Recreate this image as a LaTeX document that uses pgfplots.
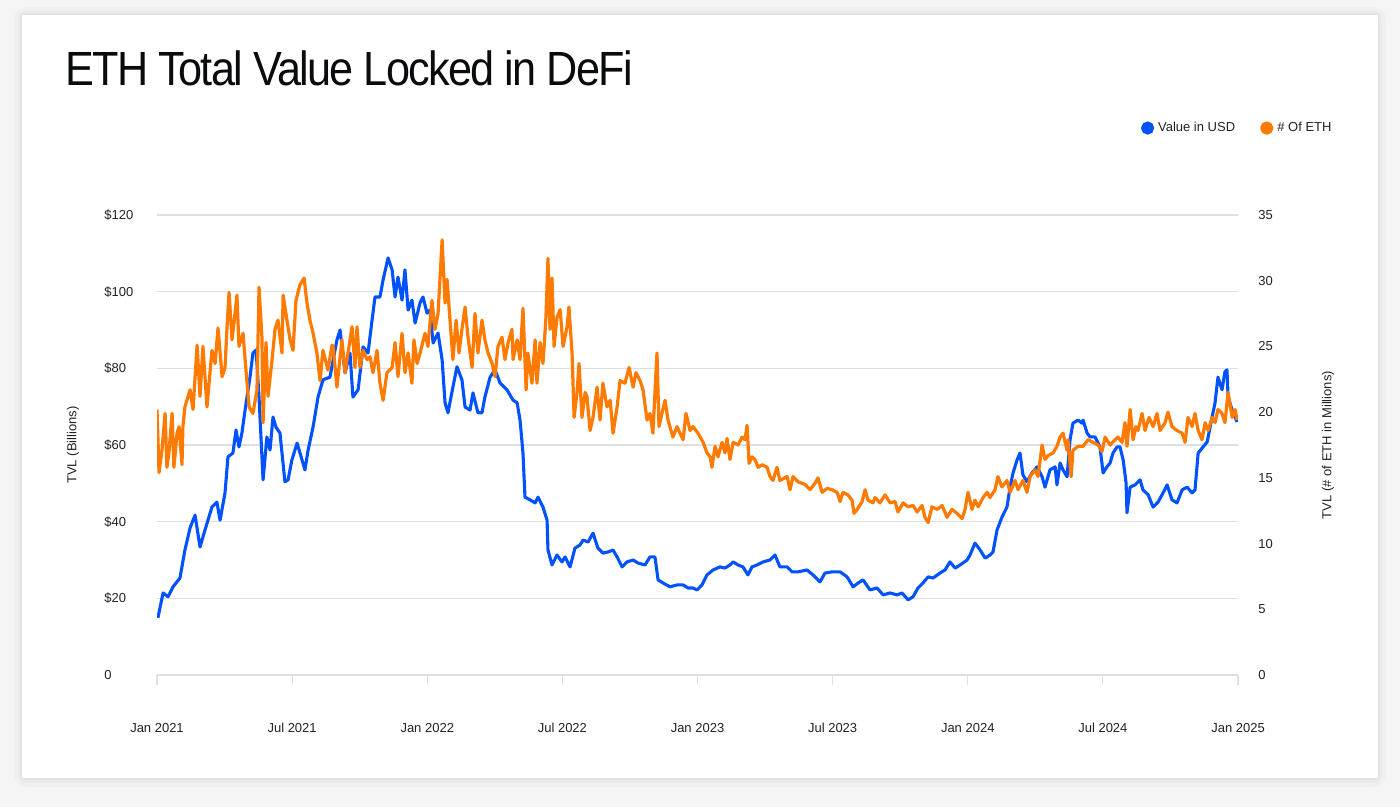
\documentclass[border=0pt]{standalone}
\usepackage{fontspec}
\setmainfont{Liberation Sans}
\newfontfamily\titlefont[LetterSpace=-4]{Liberation Sans}
\usepackage{graphicx}
\usepackage{pgfplots}
\pgfplotsset{compat=1.18}
\definecolor{cbblue}{HTML}{0052FF}
\definecolor{cborange}{HTML}{FF7A00}
\definecolor{gridgray}{HTML}{DCDFE3}
\definecolor{bggray}{HTML}{F5F5F5}
\definecolor{txt}{HTML}{222222}
\definecolor{ttl}{HTML}{0A0B0D}
\begin{document}
\begin{tikzpicture}
\fill[bggray] (0pt,0pt) rectangle (700pt,403.5pt);
\fill[black,opacity=0.02,rounded corners=6pt] (7pt,10pt) rectangle (693pt,400pt);
\fill[black,opacity=0.025,rounded corners=4pt] (9pt,12pt) rectangle (691pt,398pt);
\fill[black,opacity=0.03,rounded corners=2pt] (10.3pt,13.6pt) rectangle (689.7pt,396.8pt);
\fill[white] (11pt,14.5pt) rectangle (689pt,396pt);
\node[anchor=base west, inner sep=0pt, text=ttl] at (32.5pt,360.5pt) {\titlefont\fontsize{24}{29}\selectfont\scalebox{0.9}[1]{ETH Total Value Locked in DeFi}};

\begin{axis}[
 at={(78.5pt,66pt)}, anchor=south west,
 scale only axis, width=540.5pt, height=230pt,
 xmin=0, xmax=48, ymin=0, ymax=120,
 axis x line*=bottom, axis y line*=left,
 y axis line style={draw=none},
 x axis line style={draw=gridgray, line width=0.6pt},
 xtick={0,6,...,48},
 xticklabels={Jan 2021, Jul 2021, Jan 2022, Jul 2022, Jan 2023, Jul 2023, Jan 2024, Jul 2024, Jan 2025},
 ytick={0,20,...,120},
 yticklabels={0,\$20,\$40,\$60,\$80,\$100,\$120},
 ymajorgrids, major grid style={draw=gridgray, line width=0.6pt},
 xtick style={draw=gridgray, line width=0.6pt}, ytick style={draw=none},
 xtick align=outside, major tick length=5pt,
 tick label style={font=\fontsize{6.5}{8}\selectfont, text=txt},
 yticklabel style={anchor=west, inner sep=0pt, xshift=-26.5pt},
 xticklabel style={anchor=base, inner sep=0pt, yshift=-23.5pt},
 ylabel={TVL (Billions)},
 ylabel style={at={(axis description cs:-0.0777,0.5)}, anchor=center, font=\fontsize{6.5}{8}\selectfont, text=txt},
]
\addplot[cbblue, line width=1.55pt, line join=round] coordinates {
(0.04,14.9)(0.27,21.4)(0.49,20.4)(0.71,23.0)(1.02,25.3)(1.24,32.6)(1.47,38.4)(1.69,41.7)(1.91,33.4)(2.13,37.8)(2.44,43.8)(2.66,45.1)(2.80,40.4)(3.02,47.5)(3.15,56.9)(3.37,57.9)(3.51,63.9)(3.64,59.5)(3.77,63.1)(3.91,69.1)(4.13,77.7)(4.26,84.0)(4.40,84.8)(4.53,72.5)(4.71,50.9)(4.88,62.1)(5.02,58.7)(5.15,67.3)(5.28,64.7)(5.46,63.1)(5.68,50.4)(5.82,50.9)(5.99,56.1)(6.22,60.5)(6.44,56.1)(6.57,53.5)(6.71,58.7)(6.93,64.7)(7.15,72.5)(7.37,77.0)(7.68,77.7)(7.99,87.4)(8.13,90.0)(8.35,78.8)(8.57,84.0)(8.70,72.5)(8.93,74.4)(9.15,85.6)(9.37,84.0)(9.55,92.6)(9.68,98.6)(9.90,98.6)(10.04,103.1)(10.26,108.8)(10.44,105.7)(10.57,98.6)(10.70,103.8)(10.88,97.8)(11.01,105.7)(11.15,95.2)(11.32,97.8)(11.46,91.8)(11.68,97.1)(11.81,98.6)(11.99,94.4)(12.12,95.2)(12.26,86.6)(12.48,89.2)(12.66,82.2)(12.79,71.0)(12.92,68.4)(13.14,75.1)(13.32,80.4)(13.54,77.0)(13.68,69.9)(13.90,69.1)(14.03,73.6)(14.25,68.4)(14.43,68.4)(14.56,72.5)(14.79,77.7)(15.01,79.6)(15.23,76.2)(15.54,74.4)(15.81,71.7)(15.99,71.0)(16.12,66.5)(16.25,57.9)(16.34,46.4)(16.56,45.7)(16.79,44.9)(16.92,46.4)(17.14,43.8)(17.32,40.4)(17.36,32.6)(17.54,28.7)(17.76,31.3)(17.98,29.5)(18.12,30.8)(18.34,28.2)(18.56,33.1)(18.78,33.9)(18.92,35.2)(19.14,34.7)(19.36,37.0)(19.58,33.1)(19.80,31.8)(20.03,32.1)(20.25,32.6)(20.43,30.8)(20.65,28.2)(20.87,29.5)(21.14,30.0)(21.36,29.2)(21.67,28.7)(21.89,30.8)(22.11,30.8)(22.25,24.8)(22.47,24.0)(22.78,23.0)(23.09,23.5)(23.36,23.5)(23.58,22.7)(23.80,22.7)(23.98,22.2)(24.20,23.5)(24.42,26.1)(24.69,27.4)(25.00,28.2)(25.22,27.9)(25.44,28.7)(25.58,29.5)(25.80,28.7)(26.02,28.2)(26.24,26.1)(26.42,28.2)(26.64,28.7)(26.91,29.5)(27.22,30.0)(27.44,31.3)(27.66,28.2)(27.98,28.2)(28.20,26.9)(28.46,26.9)(28.86,27.4)(29.13,26.1)(29.44,24.3)(29.66,26.6)(29.97,26.9)(30.33,26.9)(30.64,25.6)(30.91,23.0)(31.13,24.0)(31.35,24.8)(31.66,22.2)(31.97,22.7)(32.24,20.9)(32.55,21.4)(32.86,20.9)(33.08,21.4)(33.35,19.6)(33.57,20.4)(33.79,22.7)(34.01,24.0)(34.24,25.6)(34.46,25.3)(34.77,26.6)(34.99,27.4)(35.21,29.5)(35.44,27.9)(35.66,28.7)(35.97,30.0)(36.10,31.3)(36.32,34.4)(36.55,32.6)(36.77,30.5)(36.99,31.3)(37.12,32.1)(37.30,37.8)(37.52,41.2)(37.74,43.8)(37.88,49.0)(38.01,52.7)(38.19,56.1)(38.32,57.9)(38.45,52.2)(38.63,50.4)(38.85,52.7)(39.08,54.3)(39.30,51.7)(39.43,49.0)(39.65,53.5)(39.88,54.3)(39.96,49.6)(40.10,55.3)(40.23,53.5)(40.41,51.7)(40.54,61.3)(40.67,65.7)(40.90,66.5)(41.07,65.7)(41.12,66.5)(41.30,63.1)(41.43,62.1)(41.65,62.1)(41.87,59.5)(42.01,52.7)(42.18,54.3)(42.32,55.3)(42.45,57.9)(42.63,59.5)(42.76,59.5)(42.90,56.1)(43.03,50.1)(43.07,42.3)(43.21,49.0)(43.43,49.6)(43.65,50.9)(43.78,48.3)(44.01,47.0)(44.23,43.8)(44.45,45.1)(44.67,47.5)(44.85,49.6)(45.07,45.7)(45.29,44.9)(45.52,48.3)(45.74,49.0)(45.96,47.5)(46.09,48.3)(46.23,57.9)(46.45,59.5)(46.63,60.8)(46.85,67.3)(46.98,71.0)(47.11,77.7)(47.29,74.4)(47.42,79.1)(47.51,79.6)(47.56,72.5)(47.74,69.1)(47.87,67.3)(47.96,66.0)
};
\end{axis}

\begin{axis}[
 at={(78.5pt,66pt)}, anchor=south west,
 scale only axis, width=540.5pt, height=230pt,
 xmin=0, xmax=48, ymin=0, ymax=35,
 axis x line=none, axis y line*=right,
 y axis line style={draw=none},
 ytick={0,5,...,35},
 yticklabels={0,5,10,15,20,25,30,35},
 ytick style={draw=none},
 tick label style={font=\fontsize{6.5}{8}\selectfont, text=txt},
 yticklabel style={anchor=west, inner sep=0pt, xshift=10pt},
 ylabel={TVL (\# of ETH in Millions)},
 ylabel style={at={(axis description cs:1.0833,0.5)}, anchor=center, font=\fontsize{6.5}{8}\selectfont, text=txt},
 legend style={at={(axis description cs:1.0906,1.189)}, anchor=east, draw=none, fill=none,
   font=\fontsize{6.5}{8}\selectfont, text=txt, legend columns=2, inner sep=0pt,
   /tikz/every even column/.append style={column sep=10.5pt}},
 legend image code/.code={\fill[#1] (0pt,0pt) circle (2.5pt);},
]
\addlegendimage{cbblue, line width=1.5pt}
\addlegendentry{Value in USD}
\addplot[cborange, line width=1.6pt, line join=round] coordinates {
(0.00,20.2)(0.09,15.4)(0.22,17.1)(0.36,19.9)(0.44,15.8)(0.53,16.9)(0.67,19.9)(0.75,15.8)(0.89,18.4)(0.98,18.9)(1.11,16.0)(1.15,18.9)(1.24,20.4)(1.47,21.7)(1.60,20.2)(1.78,25.1)(1.91,21.2)(2.04,25.0)(2.22,20.4)(2.44,24.7)(2.58,23.7)(2.71,26.4)(2.89,22.7)(3.02,23.4)(3.11,26.5)(3.20,29.1)(3.33,25.5)(3.42,26.8)(3.55,28.9)(3.64,25.0)(3.82,26.0)(3.95,23.2)(4.09,20.4)(4.26,19.9)(4.44,21.7)(4.53,29.5)(4.66,25.7)(4.71,19.2)(4.84,25.3)(4.93,21.2)(5.11,24.0)(5.24,26.3)(5.37,27.0)(5.55,24.5)(5.60,28.9)(5.77,27.0)(5.91,25.5)(6.04,24.7)(6.17,28.5)(6.35,29.7)(6.53,30.2)(6.66,28.3)(6.79,27.0)(6.93,26.0)(7.10,24.5)(7.24,22.4)(7.37,24.7)(7.59,23.2)(7.77,25.1)(7.82,25.0)(7.99,21.9)(8.21,25.5)(8.35,23.0)(8.48,24.5)(8.66,26.5)(8.79,23.4)(8.88,26.5)(9.01,23.4)(9.15,24.7)(9.33,24.0)(9.46,24.2)(9.59,23.0)(9.77,24.7)(9.90,22.2)(10.04,20.9)(10.21,23.0)(10.44,23.4)(10.57,25.3)(10.70,22.7)(10.88,26.0)(11.01,23.0)(11.15,24.5)(11.32,22.2)(11.41,25.5)(11.55,23.7)(11.68,24.5)(11.90,26.0)(12.03,25.0)(12.21,28.5)(12.34,26.3)(12.48,27.5)(12.66,33.1)(12.79,28.3)(12.88,30.1)(13.01,27.0)(13.14,24.0)(13.28,27.0)(13.41,24.5)(13.54,26.3)(13.68,28.0)(13.81,25.7)(13.99,23.4)(14.12,27.5)(14.25,24.5)(14.43,27.0)(14.56,25.5)(14.70,24.5)(14.88,23.7)(15.01,22.7)(15.14,25.0)(15.32,25.7)(15.45,24.0)(15.59,25.3)(15.76,26.3)(15.81,24.0)(15.99,25.5)(16.12,24.0)(16.25,27.9)(16.39,21.7)(16.47,24.5)(16.65,22.2)(16.79,25.5)(16.87,22.2)(17.01,25.3)(17.14,23.7)(17.27,27.2)(17.36,31.7)(17.45,26.3)(17.54,30.2)(17.63,25.0)(17.76,27.2)(17.90,27.8)(18.03,25.0)(18.21,26.5)(18.29,28.0)(18.43,24.5)(18.52,19.6)(18.65,21.5)(18.74,23.7)(18.87,19.6)(19.01,21.5)(19.09,21.2)(19.23,18.6)(19.36,19.6)(19.54,21.9)(19.67,19.4)(19.80,22.2)(19.98,20.4)(20.12,20.9)(20.25,18.4)(20.43,20.4)(20.56,22.4)(20.78,22.2)(20.96,23.4)(21.14,21.9)(21.27,23.0)(21.45,22.4)(21.58,21.7)(21.76,19.4)(21.89,19.9)(22.02,18.4)(22.20,24.5)(22.29,18.9)(22.42,19.9)(22.56,20.9)(22.69,19.4)(22.91,18.1)(23.09,18.9)(23.22,18.4)(23.36,17.9)(23.49,19.9)(23.67,18.6)(23.80,18.9)(24.02,18.4)(24.25,17.7)(24.42,16.9)(24.56,16.6)(24.64,15.8)(24.78,17.4)(24.91,16.6)(25.09,17.7)(25.22,16.9)(25.31,18.0)(25.44,16.4)(25.58,17.7)(25.80,17.5)(25.98,18.1)(26.11,17.9)(26.20,19.0)(26.29,16.1)(26.42,16.6)(26.55,16.4)(26.69,15.8)(26.87,16.0)(27.09,15.8)(27.22,15.1)(27.35,14.8)(27.53,15.8)(27.66,14.8)(27.98,15.1)(28.11,14.1)(28.24,15.1)(28.46,14.7)(28.77,14.5)(29.00,14.1)(29.22,14.6)(29.35,15.0)(29.53,13.9)(29.75,14.2)(29.97,14.1)(30.20,13.9)(30.33,13.2)(30.46,13.9)(30.68,13.7)(30.86,13.3)(30.95,12.3)(31.13,12.7)(31.31,13.2)(31.44,14.1)(31.57,13.3)(31.79,13.1)(31.88,13.5)(32.10,13.1)(32.33,13.7)(32.55,13.1)(32.77,13.2)(32.90,12.4)(33.13,13.1)(33.35,12.8)(33.57,12.9)(33.75,12.4)(33.97,12.9)(34.10,12.0)(34.24,11.6)(34.41,12.8)(34.64,12.6)(34.86,12.9)(35.08,12.0)(35.30,12.6)(35.52,12.3)(35.75,11.9)(35.88,12.6)(36.01,13.9)(36.19,12.6)(36.32,13.3)(36.46,12.8)(36.68,13.5)(36.86,13.9)(36.99,13.5)(37.21,14.1)(37.34,15.1)(37.52,14.3)(37.74,14.8)(37.88,13.9)(38.10,14.8)(38.23,14.1)(38.45,14.8)(38.63,13.9)(38.77,15.1)(38.99,15.6)(39.12,15.1)(39.30,17.5)(39.43,16.4)(39.57,16.7)(39.79,16.9)(39.96,17.4)(40.10,18.1)(40.23,18.4)(40.41,17.1)(40.45,17.9)(40.59,15.1)(40.67,17.1)(40.90,17.4)(41.12,17.4)(41.34,17.9)(41.56,17.7)(41.79,17.5)(41.96,17.0)(42.10,18.1)(42.32,17.5)(42.54,17.9)(42.67,18.1)(42.85,17.7)(42.98,19.2)(43.07,17.4)(43.21,20.2)(43.34,17.9)(43.47,18.9)(43.56,18.6)(43.74,19.9)(43.87,18.6)(44.05,19.6)(44.23,18.9)(44.40,19.9)(44.54,18.6)(44.76,19.2)(44.89,20.0)(45.07,18.9)(45.29,18.6)(45.52,18.4)(45.65,17.7)(45.78,19.6)(45.96,18.9)(46.09,19.9)(46.23,18.6)(46.40,17.9)(46.54,19.2)(46.67,18.6)(46.85,19.6)(46.98,19.2)(47.11,20.2)(47.29,19.9)(47.42,19.2)(47.56,21.5)(47.74,19.6)(47.87,20.2)(47.96,19.4)
};
\addlegendentry{\# Of ETH}
\end{axis}
\end{tikzpicture}
\end{document}
